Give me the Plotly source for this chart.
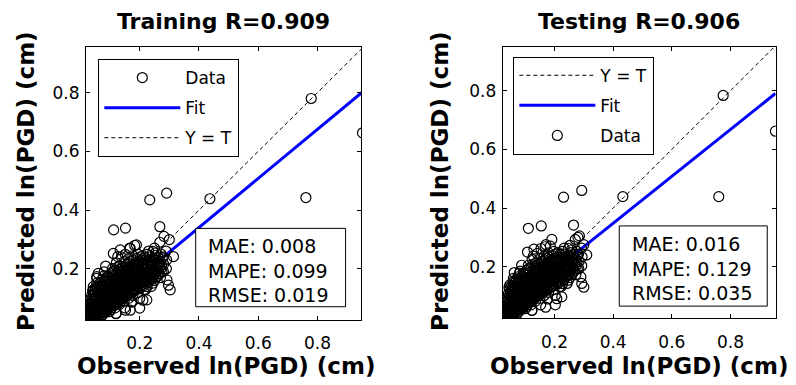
import plotly.graph_objects as go

FONT = "DejaVu Sans"

# ---------------- data ----------------
obs_train = [
    0.020, 0.022, 0.019,
    0.026, 0.024, 0.027, 0.025,
    0.032, 0.031, 0.033, 0.030, 0.034,
    0.038, 0.039, 0.037, 0.040, 0.038,
    0.045, 0.046, 0.044, 0.047, 0.045, 0.043,
    0.052, 0.053, 0.051, 0.054, 0.052, 0.050, 0.055,
    0.060, 0.061, 0.059, 0.062, 0.060, 0.058,
    0.068, 0.067, 0.069, 0.066, 0.068, 0.070, 0.067,
    0.075, 0.076, 0.074, 0.077, 0.075, 0.073, 0.078,
    0.083, 0.082, 0.084, 0.081, 0.085, 0.083, 0.080,
    0.090, 0.091, 0.089, 0.092, 0.090, 0.088,
    0.098, 0.097, 0.099, 0.096, 0.100, 0.098, 0.097,
    0.105, 0.106, 0.104, 0.107, 0.105, 0.103, 0.108,
    0.113, 0.112, 0.114, 0.111, 0.115, 0.113,
    0.120, 0.121, 0.119, 0.122, 0.120, 0.118, 0.123, 0.121,
    0.128, 0.127, 0.129, 0.126, 0.130, 0.128,
    0.135, 0.136, 0.134, 0.137, 0.135, 0.133, 0.138,
    0.143, 0.142, 0.144, 0.141, 0.145, 0.143,
    0.150, 0.151, 0.149, 0.152, 0.150, 0.148, 0.153, 0.151,
    0.158, 0.157, 0.159, 0.156, 0.160, 0.158,
    0.165, 0.166, 0.164, 0.167, 0.165, 0.163, 0.168,
    0.173, 0.172, 0.174, 0.171, 0.175, 0.173, 0.170,
    0.180, 0.181, 0.179, 0.182, 0.180, 0.178, 0.183,
    0.190, 0.189, 0.191, 0.188, 0.192, 0.190,
    0.200, 0.201, 0.199, 0.202, 0.200, 0.198, 0.203,
    0.210, 0.209, 0.211, 0.208, 0.212, 0.210,
    0.220, 0.221, 0.219, 0.222, 0.220, 0.218,
    0.230, 0.229, 0.231, 0.228, 0.232, 0.230,
    0.240, 0.241, 0.239, 0.242, 0.240,
    0.250, 0.249, 0.251, 0.248, 0.252, 0.250,
    0.260, 0.261, 0.259, 0.262,
    0.270, 0.271, 0.269, 0.272, 0.268,
    0.280, 0.281, 0.279, 0.282,
    0.290, 0.291, 0.289,
    0.112, 0.152, 0.234, 0.291, 0.437, 0.779, 0.952, 0.761, 0.268, 0.314,
    0.297, 0.189, 0.166, 0.126, 0.211, 0.172, 0.120, 0.152, 0.063, 0.300, 0.055,
    # denser core
    0.023, 0.024,
    0.029, 0.028, 0.030,
    0.035, 0.036, 0.034, 0.035,
    0.042, 0.041, 0.043, 0.042, 0.041,
    0.049, 0.048, 0.050, 0.049, 0.048, 0.050,
    0.056, 0.057, 0.055, 0.056, 0.057, 0.055,
    0.064, 0.063, 0.065, 0.064, 0.063, 0.065,
    0.072, 0.071, 0.073, 0.072, 0.071, 0.073, 0.072,
    0.079, 0.080, 0.078, 0.079, 0.080, 0.078,
    0.087, 0.086, 0.088, 0.087, 0.086, 0.088,
    0.094, 0.095, 0.093, 0.094, 0.095, 0.093,
    0.102, 0.101, 0.103, 0.102, 0.101, 0.103, 0.102,
    0.109, 0.110, 0.108, 0.109, 0.110, 0.108,
    0.117, 0.116, 0.118, 0.117, 0.116, 0.118, 0.117,
    0.124, 0.125, 0.123, 0.124, 0.125, 0.123,
    0.132, 0.131, 0.133, 0.132, 0.131, 0.133, 0.132,
    0.139, 0.140, 0.138, 0.139, 0.140,
    0.147, 0.146, 0.148, 0.147, 0.146, 0.148, 0.147,
    0.154, 0.155, 0.153, 0.154, 0.155,
    0.162, 0.161, 0.163, 0.162, 0.161, 0.163, 0.162,
    0.169, 0.170, 0.168, 0.169, 0.170,
    0.177, 0.176, 0.178, 0.177, 0.176, 0.178, 0.177,
    0.185, 0.186, 0.184, 0.185, 0.186,
    0.195, 0.194, 0.196, 0.195, 0.194, 0.196, 0.195,
    0.205, 0.206, 0.204, 0.205, 0.206,
    0.215, 0.214, 0.216, 0.215, 0.214, 0.216,
    0.225, 0.226, 0.224, 0.225, 0.226, 0.224,
    0.235, 0.234, 0.236, 0.235,
    0.245, 0.246, 0.244, 0.245, 0.246, 0.244,
    0.255, 0.254, 0.256, 0.255, 0.254,
    0.265, 0.266, 0.264,
    0.275, 0.274, 0.276,
    0.111, 0.134, 0.043, 0.224, 0.200, 0.168, 0.292, 0.303, 0.085, 0.060,
]
pred_train = [
    0.022, 0.036, 0.050,
    0.030, 0.046, 0.062, 0.080,
    0.025, 0.041, 0.057, 0.075, 0.096,
    0.031, 0.050, 0.068, 0.089, 0.110,
    0.036, 0.053, 0.071, 0.091, 0.116, 0.140,
    0.028, 0.045, 0.063, 0.081, 0.101, 0.126, 0.168,
    0.040, 0.058, 0.076, 0.095, 0.118, 0.141,
    0.034, 0.051, 0.069, 0.088, 0.108, 0.131, 0.153,
    0.046, 0.063, 0.081, 0.100, 0.121, 0.146, 0.176,
    0.051, 0.070, 0.090, 0.111, 0.131, 0.156, 0.190,
    0.060, 0.079, 0.098, 0.118, 0.140, 0.163,
    0.055, 0.072, 0.091, 0.110, 0.130, 0.151, 0.173,
    0.068, 0.086, 0.105, 0.125, 0.146, 0.168, 0.201,
    0.076, 0.095, 0.115, 0.136, 0.156, 0.179,
    0.048, 0.081, 0.100, 0.120, 0.141, 0.162, 0.186, 0.221,
    0.088, 0.108, 0.128, 0.149, 0.170, 0.193,
    0.095, 0.115, 0.136, 0.156, 0.176, 0.200, 0.241,
    0.100, 0.120, 0.141, 0.161, 0.181, 0.206,
    0.068, 0.105, 0.125, 0.146, 0.166, 0.186, 0.211, 0.250,
    0.110, 0.130, 0.151, 0.171, 0.191, 0.216,
    0.115, 0.136, 0.156, 0.176, 0.196, 0.221, 0.270,
    0.088, 0.120, 0.141, 0.161, 0.181, 0.201, 0.226,
    0.125, 0.146, 0.166, 0.186, 0.206, 0.231, 0.280,
    0.130, 0.151, 0.171, 0.191, 0.211, 0.236,
    0.100, 0.136, 0.156, 0.176, 0.196, 0.216, 0.241,
    0.141, 0.161, 0.181, 0.201, 0.221, 0.246,
    0.130, 0.151, 0.169, 0.189, 0.209, 0.231,
    0.156, 0.176, 0.196, 0.216, 0.241, 0.261,
    0.141, 0.166, 0.186, 0.206, 0.226,
    0.161, 0.181, 0.201, 0.221, 0.246, 0.271,
    0.176, 0.196, 0.216, 0.239,
    0.171, 0.201, 0.226, 0.251, 0.291,
    0.191, 0.216, 0.241, 0.311,
    0.201, 0.231, 0.261,
    0.333, 0.339, 0.435, 0.458, 0.439, 0.780, 0.663, 0.443, 0.344, 0.242,
    0.145, 0.282, 0.271, 0.242, 0.094, 0.088, 0.049, 0.060, 0.020, 0.300, 0.174,
    # denser core
    0.028, 0.043,
    0.036, 0.053, 0.070,
    0.033, 0.050, 0.066, 0.085,
    0.040, 0.060, 0.078, 0.100, 0.125,
    0.037, 0.055, 0.072, 0.090, 0.112, 0.135,
    0.050, 0.068, 0.086, 0.107, 0.130, 0.152,
    0.045, 0.066, 0.085, 0.105, 0.128, 0.150,
    0.042, 0.060, 0.078, 0.097, 0.118, 0.140, 0.163,
    0.055, 0.072, 0.090, 0.110, 0.132, 0.158,
    0.060, 0.080, 0.100, 0.120, 0.142, 0.170,
    0.068, 0.088, 0.108, 0.128, 0.150, 0.175,
    0.062, 0.080, 0.100, 0.120, 0.140, 0.160, 0.185,
    0.075, 0.095, 0.115, 0.135, 0.157, 0.190,
    0.068, 0.085, 0.105, 0.125, 0.146, 0.168, 0.195,
    0.090, 0.110, 0.130, 0.151, 0.173, 0.205,
    0.080, 0.098, 0.118, 0.138, 0.160, 0.182, 0.210,
    0.105, 0.125, 0.146, 0.166, 0.188,
    0.090, 0.110, 0.130, 0.151, 0.171, 0.195, 0.225,
    0.115, 0.135, 0.156, 0.176, 0.198,
    0.100, 0.120, 0.141, 0.161, 0.181, 0.205, 0.235,
    0.125, 0.146, 0.166, 0.186, 0.210,
    0.110, 0.130, 0.151, 0.171, 0.191, 0.215, 0.245,
    0.135, 0.156, 0.176, 0.196, 0.220,
    0.120, 0.141, 0.161, 0.181, 0.201, 0.225, 0.250,
    0.146, 0.166, 0.186, 0.206, 0.230,
    0.130, 0.156, 0.176, 0.196, 0.216, 0.240,
    0.140, 0.163, 0.183, 0.203, 0.225, 0.250,
    0.165, 0.186, 0.206, 0.230,
    0.152, 0.172, 0.192, 0.212, 0.235, 0.260,
    0.170, 0.190, 0.210, 0.230, 0.255,
    0.185, 0.206, 0.228,
    0.190, 0.213, 0.238,
    0.253, 0.265, 0.129, 0.095, 0.067, 0.060, 0.163, 0.129, 0.210, 0.185,
]

obs_test = [
    0.025, 0.027, 0.026,
    0.031, 0.030, 0.032, 0.029,
    0.037, 0.036, 0.038, 0.035, 0.039,
    0.043, 0.044, 0.042, 0.045, 0.043,
    0.050, 0.051, 0.049, 0.052, 0.050, 0.048,
    0.057, 0.058, 0.056, 0.059, 0.057, 0.055, 0.060,
    0.064, 0.065, 0.063, 0.066, 0.064, 0.062,
    0.071, 0.070, 0.072, 0.069, 0.071, 0.073, 0.070,
    0.078, 0.079, 0.077, 0.080, 0.078, 0.076, 0.081,
    0.086, 0.085, 0.087, 0.084, 0.088, 0.086, 0.083,
    0.093, 0.094, 0.092, 0.095, 0.093, 0.091,
    0.101, 0.100, 0.102, 0.099, 0.103, 0.101, 0.100,
    0.108, 0.109, 0.107, 0.110, 0.108, 0.106, 0.111,
    0.116, 0.115, 0.117, 0.114, 0.118, 0.116,
    0.123, 0.124, 0.122, 0.125, 0.123, 0.121, 0.126, 0.124,
    0.131, 0.130, 0.132, 0.129, 0.133, 0.131,
    0.138, 0.139, 0.137, 0.140, 0.138, 0.136, 0.141,
    0.146, 0.145, 0.147, 0.144, 0.148, 0.146,
    0.153, 0.154, 0.152, 0.155, 0.153, 0.151, 0.156, 0.154,
    0.161, 0.160, 0.162, 0.159, 0.163, 0.161,
    0.168, 0.169, 0.167, 0.170, 0.168, 0.166, 0.171,
    0.176, 0.175, 0.177, 0.174, 0.178, 0.176, 0.173,
    0.183, 0.184, 0.182, 0.185, 0.183, 0.181, 0.186,
    0.193, 0.192, 0.194, 0.191, 0.195, 0.193,
    0.203, 0.204, 0.202, 0.205, 0.203, 0.201, 0.206,
    0.213, 0.212, 0.214, 0.211, 0.215, 0.213,
    0.223, 0.224, 0.222, 0.225, 0.223, 0.221,
    0.233, 0.232, 0.234, 0.231, 0.235, 0.233,
    0.243, 0.244, 0.242, 0.245, 0.243,
    0.253, 0.252, 0.254, 0.251, 0.255, 0.253,
    0.263, 0.264, 0.262, 0.265,
    0.273, 0.274, 0.272, 0.275, 0.271,
    0.283, 0.284, 0.282, 0.285,
    0.293, 0.294, 0.292,
    0.111, 0.155, 0.231, 0.293, 0.433, 0.775, 0.953, 0.760, 0.265, 0.310,
    0.293, 0.191, 0.168, 0.128, 0.208, 0.123, 0.060, 0.280, 0.300,
    # denser core
    0.028, 0.027,
    0.034, 0.033, 0.035,
    0.040, 0.041, 0.039, 0.040,
    0.047, 0.046, 0.048, 0.047, 0.046,
    0.053, 0.052, 0.054, 0.053, 0.052, 0.054,
    0.060, 0.061, 0.059, 0.060, 0.061, 0.059,
    0.067, 0.066, 0.068, 0.067, 0.066, 0.068,
    0.075, 0.074, 0.076, 0.075, 0.074, 0.076, 0.075,
    0.082, 0.083, 0.081, 0.082, 0.083, 0.081,
    0.090, 0.089, 0.091, 0.090, 0.089, 0.091,
    0.097, 0.098, 0.096, 0.097, 0.098, 0.096,
    0.105, 0.104, 0.106, 0.105, 0.104, 0.106, 0.105,
    0.112, 0.113, 0.111, 0.112, 0.113, 0.111,
    0.120, 0.119, 0.121, 0.120, 0.119, 0.121, 0.120,
    0.127, 0.128, 0.126, 0.127, 0.128, 0.126,
    0.135, 0.134, 0.136, 0.135, 0.134, 0.136, 0.135,
    0.142, 0.143, 0.141, 0.142, 0.143,
    0.150, 0.149, 0.151, 0.150, 0.149, 0.151, 0.150,
    0.157, 0.158, 0.156, 0.157, 0.158,
    0.165, 0.164, 0.166, 0.165, 0.164, 0.166, 0.165,
    0.172, 0.173, 0.171, 0.172, 0.173,
    0.180, 0.179, 0.181, 0.180, 0.179, 0.181, 0.180,
    0.188, 0.189, 0.187, 0.188, 0.189,
    0.198, 0.197, 0.199, 0.198, 0.197, 0.199, 0.198,
    0.208, 0.209, 0.207, 0.208, 0.209,
    0.218, 0.217, 0.219, 0.218, 0.217, 0.219,
    0.228, 0.229, 0.227, 0.228, 0.229, 0.227,
    0.238, 0.237, 0.239, 0.238,
    0.248, 0.249, 0.247, 0.248, 0.249, 0.247,
    0.258, 0.257, 0.259, 0.258, 0.257,
    0.268, 0.269, 0.267,
    0.278, 0.277, 0.279,
    0.108, 0.130, 0.045, 0.225, 0.203, 0.170, 0.290, 0.300, 0.088, 0.063,
]
pred_test = [
    0.020, 0.034, 0.049,
    0.028, 0.044, 0.060, 0.079,
    0.027, 0.043, 0.059, 0.077, 0.094,
    0.033, 0.052, 0.070, 0.087, 0.108,
    0.034, 0.055, 0.073, 0.093, 0.114, 0.138,
    0.030, 0.047, 0.065, 0.083, 0.103, 0.124, 0.160,
    0.042, 0.060, 0.078, 0.097, 0.120, 0.143,
    0.036, 0.053, 0.071, 0.090, 0.110, 0.133, 0.156,
    0.048, 0.065, 0.083, 0.102, 0.123, 0.148, 0.178,
    0.053, 0.072, 0.092, 0.113, 0.133, 0.158, 0.185,
    0.062, 0.081, 0.100, 0.120, 0.142, 0.165,
    0.057, 0.074, 0.093, 0.112, 0.132, 0.153, 0.176,
    0.070, 0.088, 0.107, 0.127, 0.148, 0.170, 0.205,
    0.078, 0.097, 0.117, 0.138, 0.158, 0.181,
    0.051, 0.083, 0.102, 0.122, 0.143, 0.164, 0.188, 0.225,
    0.090, 0.110, 0.130, 0.151, 0.172, 0.195,
    0.097, 0.117, 0.138, 0.158, 0.178, 0.202, 0.245,
    0.102, 0.122, 0.143, 0.163, 0.183, 0.208,
    0.070, 0.107, 0.127, 0.148, 0.168, 0.188, 0.213, 0.262,
    0.112, 0.132, 0.153, 0.173, 0.193, 0.218,
    0.117, 0.138, 0.158, 0.178, 0.198, 0.223, 0.275,
    0.090, 0.122, 0.143, 0.163, 0.183, 0.203, 0.228,
    0.127, 0.148, 0.168, 0.188, 0.208, 0.233, 0.270,
    0.132, 0.153, 0.173, 0.193, 0.213, 0.238,
    0.102, 0.138, 0.158, 0.178, 0.198, 0.218, 0.243,
    0.143, 0.163, 0.183, 0.203, 0.223, 0.248,
    0.132, 0.153, 0.171, 0.191, 0.211, 0.233,
    0.158, 0.178, 0.198, 0.218, 0.243, 0.263,
    0.143, 0.168, 0.188, 0.208, 0.228,
    0.163, 0.183, 0.203, 0.223, 0.248, 0.273,
    0.178, 0.198, 0.218, 0.241,
    0.173, 0.203, 0.228, 0.253, 0.293,
    0.193, 0.218, 0.243, 0.305,
    0.203, 0.233, 0.263,
    0.331, 0.339, 0.437, 0.460, 0.439, 0.784, 0.662, 0.439, 0.342, 0.240,
    0.143, 0.293, 0.268, 0.236, 0.091, 0.051, 0.017, 0.300, 0.275,
    # denser core
    0.026, 0.041,
    0.035, 0.051, 0.068,
    0.035, 0.052, 0.068, 0.086,
    0.042, 0.061, 0.080, 0.101, 0.124,
    0.039, 0.057, 0.074, 0.092, 0.113, 0.133,
    0.052, 0.070, 0.088, 0.108, 0.131, 0.150,
    0.047, 0.068, 0.087, 0.107, 0.129, 0.152,
    0.044, 0.062, 0.080, 0.099, 0.120, 0.141, 0.165,
    0.057, 0.074, 0.092, 0.112, 0.134, 0.160,
    0.062, 0.082, 0.102, 0.122, 0.144, 0.168,
    0.070, 0.090, 0.110, 0.130, 0.152, 0.177,
    0.064, 0.082, 0.102, 0.122, 0.142, 0.162, 0.187,
    0.077, 0.097, 0.117, 0.137, 0.159, 0.192,
    0.070, 0.087, 0.107, 0.127, 0.148, 0.170, 0.197,
    0.092, 0.112, 0.132, 0.153, 0.175, 0.207,
    0.082, 0.100, 0.120, 0.140, 0.162, 0.184, 0.212,
    0.107, 0.127, 0.148, 0.168, 0.190,
    0.092, 0.112, 0.132, 0.153, 0.173, 0.197, 0.227,
    0.117, 0.137, 0.158, 0.178, 0.200,
    0.102, 0.122, 0.143, 0.163, 0.183, 0.207, 0.237,
    0.127, 0.148, 0.168, 0.188, 0.212,
    0.112, 0.132, 0.153, 0.173, 0.193, 0.217, 0.247,
    0.137, 0.158, 0.178, 0.198, 0.222,
    0.122, 0.143, 0.163, 0.183, 0.203, 0.227, 0.252,
    0.148, 0.168, 0.188, 0.208, 0.232,
    0.132, 0.158, 0.178, 0.198, 0.218, 0.242,
    0.142, 0.165, 0.185, 0.205, 0.227, 0.252,
    0.167, 0.188, 0.208, 0.232,
    0.154, 0.174, 0.194, 0.214, 0.237, 0.262,
    0.172, 0.192, 0.212, 0.232, 0.257,
    0.187, 0.208, 0.230,
    0.192, 0.215, 0.240,
    0.250, 0.260, 0.130, 0.097, 0.070, 0.062, 0.165, 0.130, 0.205, 0.180,
]

fit_train = [0.835, 0.007]   # slope, intercept
fit_test = [0.800, 0.028]

titles = ["Training R=0.909", "Testing R=0.906"]
stats_train = ["MAE: 0.008", "MAPE: 0.099", "RMSE: 0.019"]
stats_test = ["MAE: 0.016", "MAPE: 0.129", "RMSE: 0.035"]
tick_vals = [0.2, 0.4, 0.6, 0.8]
x_label = "Observed ln(PGD) (cm)"
y_label = "Predicted ln(PGD) (cm)"

assert len(obs_train) == len(pred_train), (len(obs_train), len(pred_train))
assert len(obs_test) == len(pred_test), (len(obs_test), len(pred_test))

fig = go.Figure()


def add_panel(obs, pred, fit, xa, ya, legend, ranks):
    lo, hi = min(obs), max(obs)
    fig.add_trace(go.Scatter(
        x=[lo, hi], y=[lo, hi], mode="lines", name="Y = T",
        line=dict(color="black", width=1, dash="4px,3px"),
        xaxis=xa, yaxis=ya, legend=legend, legendgroup=legend + "yt",
        legendrank=ranks[2]))
    fig.add_trace(go.Scatter(
        x=[lo, hi], y=[fit[0] * lo + fit[1], fit[0] * hi + fit[1]],
        mode="lines", name="Fit", line=dict(color="#0000ff", width=3),
        xaxis=xa, yaxis=ya, legend=legend, legendgroup=legend + "fit",
        legendrank=ranks[1]))
    fig.add_trace(go.Scatter(
        x=obs, y=pred, mode="markers", name="Data",
        marker=dict(symbol="circle-open", size=10, color="black",
                    line=dict(width=1.2, color="black")),
        xaxis=xa, yaxis=ya, legend=legend, legendgroup=legend + "data",
        legendrank=ranks[0]))


add_panel(obs_train, pred_train, fit_train, "x", "y", "legend", [1, 2, 3])
add_panel(obs_test, pred_test, fit_test, "x2", "y2", "legend2", [3, 2, 1])

axis_style = dict(
    showline=True, linecolor="black", linewidth=1, mirror="ticks",
    ticks="inside", ticklen=4, tickcolor="black", tickwidth=1,
    showgrid=False, zeroline=False, tickvals=tick_vals,
    tickfont=dict(family=FONT, size=17, color="black"),
)

fig.update_layout(
    width=796, height=385, margin=dict(l=0, r=0, t=0, b=0),
    paper_bgcolor="white", plot_bgcolor="white",
    xaxis=dict(domain=[0.1080, 0.4535], range=[0.0186, 0.947], anchor="y",
               ticklabelstandoff=8, **axis_style),
    yaxis=dict(domain=[0.1688, 0.8771], range=[0.0265, 0.954], anchor="x",
               ticklabelstandoff=2, **axis_style),
    xaxis2=dict(domain=[0.6315, 0.9745], range=[0.0235, 0.954], anchor="y2",
                ticklabelstandoff=8, **axis_style),
    yaxis2=dict(domain=[0.1732, 0.8771], range=[0.024, 0.948], anchor="x2",
                ticklabelstandoff=2, **axis_style),
)

legend_style = dict(
    xanchor="left", yanchor="top", bordercolor="black", borderwidth=1,
    bgcolor="white", font=dict(family=FONT, size=17, color="black"),
    itemwidth=76, tracegroupgap=5, traceorder="grouped",
)
fig.update_layout(
    legend=dict(x=0.1235, y=0.8468, **legend_style),
    legend2=dict(x=0.6449, y=0.8527, **legend_style),
)

# statistics boxes
for xr, yr, box, txtpos, lines in [
    ("x domain", "y domain", (0.399, 0.944, 0.0487, 0.336), (0.435, 0.18), stats_train),
    ("x2 domain", "y2 domain", (0.427, 0.969, 0.045, 0.341), (0.466, 0.183), stats_test),
]:
    fig.add_shape(type="rect", xref=xr, yref=yr, x0=box[0], x1=box[1],
                  y0=box[2], y1=box[3], line=dict(color="black", width=1),
                  fillcolor="white", layer="above")
    fig.add_annotation(xref=xr, yref=yr, x=txtpos[0], y=txtpos[1],
                       xanchor="left", yanchor="middle", align="left",
                       showarrow=False, text="<br>".join(lines),
                       font=dict(family=FONT, size=19, color="black"))

# titles and axis labels
for xc, t in [(0.2802, titles[0]), (0.803, titles[1])]:
    fig.add_annotation(xref="paper", yref="paper", x=xc, y=0.943,
                       xanchor="center", yanchor="middle", showarrow=False,
                       text=t, font=dict(family=FONT, size=22, color="black",
                                         weight="bold"))
for xc in [0.2837, 0.8028]:
    fig.add_annotation(xref="paper", yref="paper", x=xc, y=0.049,
                       xanchor="center", yanchor="middle", showarrow=False,
                       text=x_label, font=dict(family=FONT, size=23,
                                               color="black", weight="bold"))
for xc in [0.0327, 0.5528]:
    fig.add_annotation(xref="paper", yref="paper", x=xc, y=0.53,
                       xanchor="center", yanchor="middle", showarrow=False,
                       textangle=-90, text=y_label,
                       font=dict(family=FONT, size=23, color="black",
                                 weight="bold"))

fig.write_html("out.html")
